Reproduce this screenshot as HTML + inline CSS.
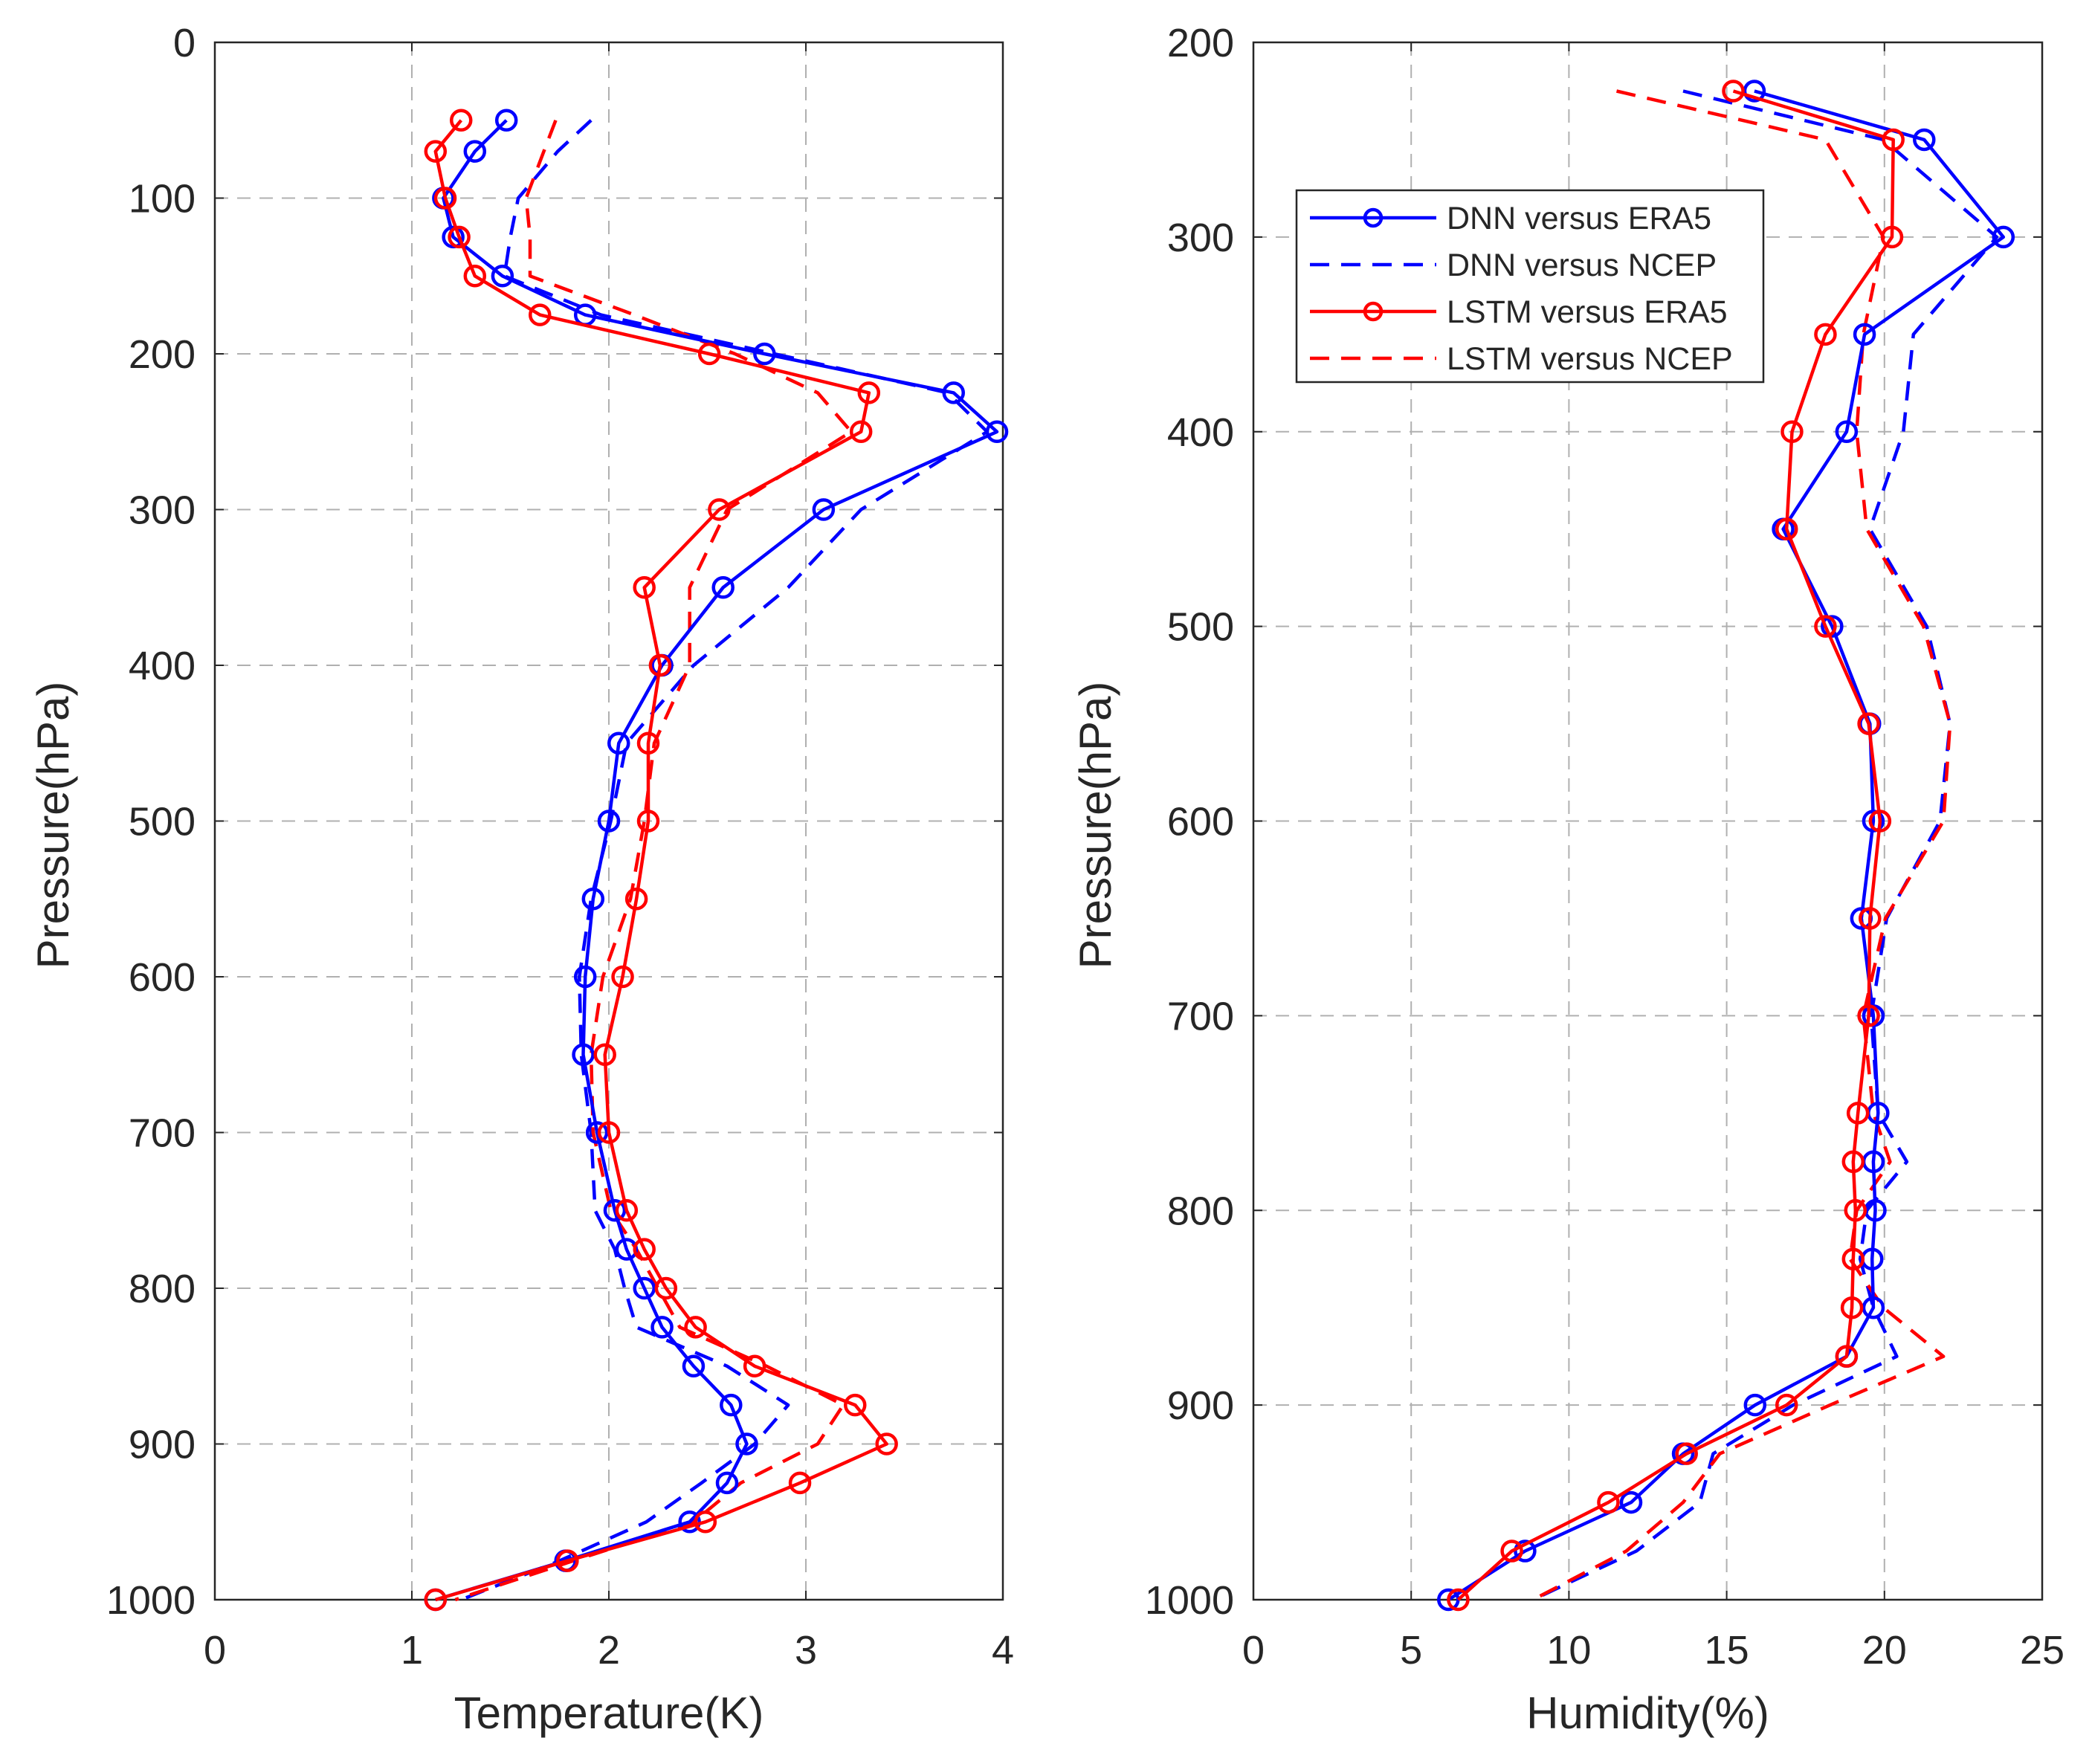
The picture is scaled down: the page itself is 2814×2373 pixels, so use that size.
<!DOCTYPE html>
<html><head><meta charset="utf-8"><style>
html,body{margin:0;padding:0;background:#fff}
svg{display:block}
text{font-family:"Liberation Sans",Arial,sans-serif;fill:#262626}
</style></head><body>
<svg id="chart" width="2814" height="2373" viewBox="0 0 2814 2373" xmlns="http://www.w3.org/2000/svg">
<rect width="2814" height="2373" fill="#fff"/>
<g id="g1"></g>
<g id="g2"></g>
</svg>
<script>
const tLevels=[50,70,100,125,150,175,200,225,250,300,350,400,450,500,550,600,650,700,750,775,800,825,850,875,900,925,950,975,1000];
const tDnnEra=[1.48,1.32,1.16,1.21,1.46,1.88,2.79,3.75,3.97,3.09,2.58,2.27,2.05,2.00,1.92,1.88,1.87,1.94,2.03,2.09,2.18,2.27,2.43,2.62,2.70,2.60,2.41,1.78,1.12];
const tDnnNcep=[1.91,1.74,1.54,1.50,1.47,1.96,2.84,3.72,3.92,3.28,2.91,2.43,2.09,2.01,1.91,1.85,1.86,1.91,1.93,2.03,2.08,2.14,2.60,2.91,2.74,2.47,2.19,1.75,1.25];
const tLstmEra=[1.25,1.12,1.17,1.24,1.32,1.65,2.51,3.32,3.28,2.56,2.18,2.26,2.20,2.20,2.14,2.07,1.98,2.00,2.09,2.18,2.29,2.44,2.74,3.25,3.41,2.97,2.49,1.79,1.12];
const tLstmNcep=[1.73,1.67,1.58,1.60,1.60,2.13,2.64,3.06,3.23,2.60,2.41,2.41,2.23,2.18,2.11,1.97,1.91,1.92,2.01,2.14,2.25,2.36,2.80,3.19,3.06,2.67,2.43,1.82,1.22];
const hLevels=[225,250,300,350,400,450,500,550,600,650,700,750,775,800,825,850,875,900,925,950,975,1000];
const hDnnEra=[15.88,21.26,23.77,19.37,18.80,16.79,18.34,19.54,19.65,19.27,19.65,19.80,19.65,19.71,19.61,19.65,18.80,15.90,13.62,11.97,8.61,6.18];
const hDnnNcep=[13.62,19.97,23.56,20.92,20.60,19.54,21.34,22.08,21.76,20.07,19.58,19.80,20.71,19.44,19.23,19.65,20.39,17.11,14.57,14.15,12.14,8.86];
const hLstmEra=[15.21,20.28,20.24,18.13,17.07,16.90,18.13,19.50,19.86,19.54,19.50,19.16,19.01,19.08,19.01,18.97,18.80,16.90,13.73,11.25,8.19,6.49];
const hLstmNcep=[11.51,18.13,19.97,19.33,19.12,19.44,21.24,22.08,21.87,20.03,19.33,19.65,20.18,19.12,18.91,19.97,21.87,18.28,14.78,13.62,11.82,8.86];
const tXTicks=[0,1,2,3,4];
const tYTicks=[0,100,200,300,400,500,600,700,800,900,1000];
const hXTicks=[0,5,10,15,20,25];
const hYTicks=[200,300,400,500,600,700,800,900,1000];
const legendLabels=["DNN versus ERA5","DNN versus NCEP","LSTM versus ERA5","LSTM versus NCEP"];

const NS="http://www.w3.org/2000/svg";
function mk(tag,attrs,parent){const e=document.createElementNS(NS,tag);for(const k in attrs)e.setAttribute(k,attrs[k]);parent.appendChild(e);return e;}

function panel(g,o){
  const L=o.L,R=o.R,T=57,B=2152;
  const sx=v=>L+(v-o.x0)/(o.x1-o.x0)*(R-L);
  const sy=p=>T+(p-o.y0)/(o.y1-o.y0)*(B-T);
  mk('rect',{x:L,y:T,width:R-L,height:B-T,fill:'#fff'},g);
  o.xt.forEach(v=>{
    if(v>o.x0&&v<o.x1){const l=mk('line',{x1:sx(v),x2:sx(v),y1:T,y2:B,stroke:'#b0b0b0','stroke-width':2,'stroke-dasharray':'18,12'},g);
    
    }
    const t=mk('text',{x:sx(v),y:2238,'font-size':54,'text-anchor':'middle'},g);t.textContent=v;
    
    
    mk('line',{x1:sx(v),x2:sx(v),y1:B,y2:B-12,stroke:'#262626','stroke-width':2},g);
    mk('line',{x1:sx(v),x2:sx(v),y1:T,y2:T+12,stroke:'#262626','stroke-width':2},g);
  });
  o.yt.forEach(p=>{
    if(p>o.y0&&p<o.y1){const l=mk('line',{x1:L,x2:R,y1:sy(p),y2:sy(p),stroke:'#b0b0b0','stroke-width':2,'stroke-dasharray':'18,12'},g);
    
    }
    const t=mk('text',{x:L-26,y:sy(p)+19,'font-size':54,'text-anchor':'end'},g);t.textContent=p;
    
    
    mk('line',{x1:L,x2:L+12,y1:sy(p),y2:sy(p),stroke:'#262626','stroke-width':2},g);
    mk('line',{x1:R,x2:R-12,y1:sy(p),y2:sy(p),stroke:'#262626','stroke-width':2},g);
  });
  const box=mk('rect',{x:L,y:T,width:R-L,height:B-T,fill:'none',stroke:'#262626','stroke-width':2.5},g);
  
  
  const xt=mk('text',{x:(L+R)/2,y:2325,'font-size':60,'text-anchor':'middle'},g);xt.textContent=o.xlabel;
  
  
  const yt=mk('text',{x:0,y:0,'font-size':60,'text-anchor':'middle',transform:`translate(${o.ylx},1110) rotate(-90)`},g);yt.textContent='Pressure(hPa)';
  
  
  o.series.forEach(s=>{
    const pts=s.vals.map((v,i)=>sx(v).toFixed(1)+','+sy(o.levels[i]).toFixed(1)).join(' ');
    const pl=mk('polyline',{points:pts,fill:'none',stroke:s.c,'stroke-width':4.5,'stroke-dasharray':s.d?'26,16':'none','stroke-linejoin':'round'},g);
    
    
    if(!s.d){s.vals.forEach((v,i)=>{
      const c=mk('circle',{cx:sx(v),cy:sy(o.levels[i]),r:13,fill:'none',stroke:s.c,'stroke-width':4.5},g);
      
      
    });}
  });
}
const B='#0000ff',Rd='#ff0000';
panel(document.getElementById('g1'),{L:289,R:1349,x0:0,x1:4,y0:0,y1:1000,xt:tXTicks,yt:tYTicks,levels:tLevels,xlabel:'Temperature(K)',ylx:92,
 series:[{vals:tDnnNcep,c:B,d:1,name:'dnn-ncep-line'},{vals:tLstmNcep,c:Rd,d:1,name:'lstm-ncep-line'},{vals:tDnnEra,c:B,d:0,name:'dnn-era5-line'},{vals:tLstmEra,c:Rd,d:0,name:'lstm-era5-line'}]});
const g2=document.getElementById('g2');
panel(g2,{L:1686,R:2747,x0:0,x1:25,y0:200,y1:1000,xt:hXTicks,yt:hYTicks,levels:hLevels,xlabel:'Humidity(%)',ylx:1494,
 series:[{vals:hDnnNcep,c:B,d:1,name:'dnn-ncep-line'},{vals:hLstmNcep,c:Rd,d:1,name:'lstm-ncep-line'},{vals:hDnnEra,c:B,d:0,name:'dnn-era5-line'},{vals:hLstmEra,c:Rd,d:0,name:'lstm-era5-line'}]});
const lg=mk('g',{},g2);


mk('rect',{x:1744,y:256,width:628,height:258,fill:'#fff',stroke:'#262626','stroke-width':2.5},lg);
const styles=[[B,0],[B,1],[Rd,0],[Rd,1]];
legendLabels.forEach((lab,i)=>{
  const y=293+i*63;
  const e=mk('g',{},lg);
  
  
  mk('line',{x1:1762,x2:1932,y1:y,y2:y,stroke:styles[i][0],'stroke-width':4.5,'stroke-dasharray':styles[i][1]?'26,16':'none'},e);
  if(!styles[i][1])mk('circle',{cx:1847,cy:y,r:11,fill:'none',stroke:styles[i][0],'stroke-width':4.5},e);
  const t=mk('text',{x:1946,y:y+15,'font-size':43},e);t.textContent=lab;
});
</script>
</body></html>
